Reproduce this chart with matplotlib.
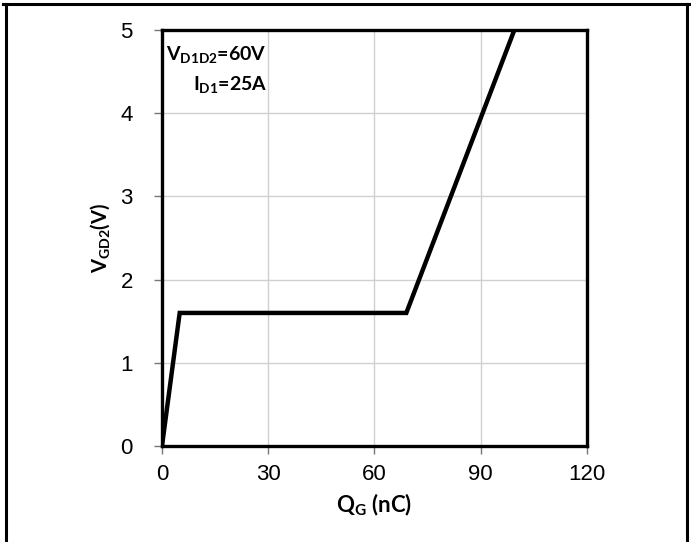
import matplotlib.pyplot as plt
from matplotlib.lines import Line2D

# gate charge curve (nC, V)
qg = [0, 5, 69, 99.5]
vgd = [0, 1.6, 1.6, 5.0]

xticks = [0, 30, 60, 90, 120]
yticks = [0, 1, 2, 3, 4, 5]

plt.rcParams['font.family'] = ['Lato', 'DejaVu Sans']
plt.rcParams['mathtext.fontset'] = 'custom'
plt.rcParams['mathtext.rm'] = 'Lato'
plt.rcParams['mathtext.bf'] = 'Lato:bold'

fig = plt.figure(figsize=(6.91, 5.42), dpi=100)
ax = fig.add_axes([0.2344, 0.177, 0.615, 0.7676])

ax.plot(qg, vgd, color='black', linewidth=3.2, solid_joinstyle='miter')

ax.set_xlim(0, 120)
ax.set_ylim(0, 5)
ax.set_xticks(xticks)
ax.set_yticks(yticks)
ax.tick_params(axis='both', labelsize=16, length=6, width=1, color='#777777',
               direction='out')
ax.tick_params(axis='x', pad=7)
ax.tick_params(axis='y', pad=15)
for lbl in ax.get_xticklabels() + ax.get_yticklabels():
    lbl.set_family('Liberation Sans')
ax.grid(True, color='#d0d0d0', linewidth=1)
ax.set_axisbelow(True)
for s in ax.spines.values():
    s.set_linewidth(2.4)
    s.set_color('black')

ax.set_xlabel(r'Q$_{\mathbf{G}}$ (nC)', fontsize=16, fontweight='bold', labelpad=5)
ax.set_ylabel(r'V$_{\mathbf{GD2}}$(V)', fontsize=14.5, fontweight='bold', labelpad=6)

ax.text(0.01, 0.965, r'V$_{\mathbf{D1D2}}$=60V', transform=ax.transAxes,
        fontsize=14, fontweight='bold', ha='left', va='top')
ax.text(0.247, 0.892, r'I$_{\mathbf{D1}}$=25A', transform=ax.transAxes,
        fontsize=14, fontweight='bold', ha='right', va='top')

# caption cut off at the top of the image
fig.text(0.06, 1.007, 'Figure 9. Typical Gate Charge', fontsize=14,
         fontweight='bold', ha='left', va='baseline')

# frame around the figure
fig.add_artist(Line2D([0.005, 0.9985], [0.9926, 0.9926], color='black', linewidth=2.2))
fig.add_artist(Line2D([0.0094, 0.0094], [0.0, 0.9926], color='black', linewidth=2.2))
fig.add_artist(Line2D([0.9942, 0.9942], [0.0, 0.9926], color='black', linewidth=2.2))

fig.savefig('out.png', dpi=100)
